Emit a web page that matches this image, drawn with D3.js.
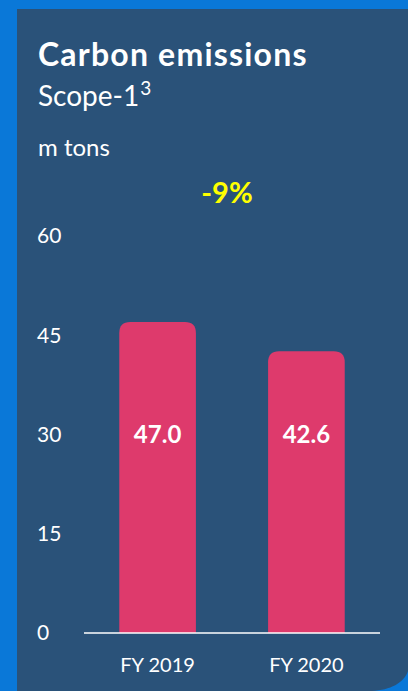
<!DOCTYPE html>
<html>
<head>
<meta charset="utf-8">
<script src="https://cdn.jsdelivr.net/npm/d3@7"></script>
<style>
  html, body { margin: 0; padding: 0; background: #0a78d8; }
  svg { display: block; }
</style>
</head>
<body>
<div id="app"></div>
<script>
// chart data
const categories = ['FY 2019', 'FY 2020']
const values = [47.0, 42.6]
const tickValues = [0, 15, 30, 45, 60]
const changeLabel = '-9%'

const W = 408
const H = 691
const font = 'Lato, "Open Sans", sans-serif'

const svg = d3.select('#app')
  .append('svg')
  .attr('width', W)
  .attr('height', H)

// navy panel, its rounded corner is cut by the bottom-right of the frame
const px = 17, py = 9
svg.append('path')
  .attr('d', `M${px},${py} H${W} V${H - 20} C${W - 4},${H - 8} ${W - 18},${H - 1} ${W - 36},${H} H${px} Z`)
  .attr('fill', '#2a5279')

// titles
svg.append('text')
  .attr('x', 38).attr('y', 66)
  .attr('fill', '#fff')
  .attr('font-family', font)
  .attr('font-weight', 'bold')
  .attr('font-size', 32)
  .attr('letter-spacing', 1.2)
  .text('Carbon emissions')

const sub = svg.append('text')
  .attr('x', 38).attr('y', 106)
  .attr('fill', '#fff')
  .attr('font-family', font)
  .attr('font-size', 28)
sub.append('tspan').text('Scope-1')
sub.append('tspan').attr('dx', 1).attr('dy', -11).attr('font-size', 19).text('3')

svg.append('text')
  .attr('x', 38).attr('y', 156)
  .attr('fill', '#fff')
  .attr('font-family', font)
  .attr('font-size', 24)
  .text('m tons')

// scales
const y = d3.scaleLinear().domain([0, 60]).range([633, 236])
const x = d3.scaleBand()
  .domain(categories)
  .range([84, 380])
  .paddingInner(0.485)
  .paddingOuter(0.237)

// change label
svg.append('text')
  .attr('x', 227).attr('y', 203)
  .attr('text-anchor', 'middle')
  .attr('fill', '#ffff00')
  .attr('font-family', font)
  .attr('font-weight', 'bold')
  .attr('font-size', 29)
  .text(changeLabel)

// y tick labels
svg.append('g')
  .selectAll('text')
  .data(tickValues)
  .join('text')
  .attr('x', 37)
  .attr('y', (d) => y(d))
  .attr('dy', '0.35em')
  .attr('fill', '#fff')
  .attr('font-family', font)
  .attr('font-size', 21)
  .text((d) => d)

// bars with rounded tops
const rr = 11
const bars = svg.append('g')
  .selectAll('g')
  .data(categories.map((c, i) => ({ c, v: values[i] })))
  .join('g')

bars.append('path')
  .attr('fill', '#de3a6c')
  .attr('d', (d) => {
    const x0 = x(d.c), x1 = x(d.c) + x.bandwidth()
    const yt = y(d.v), yb = y(0)
    return `M${x0},${yb} V${yt + rr} Q${x0},${yt} ${x0 + rr},${yt} H${x1 - rr} Q${x1},${yt} ${x1},${yt + rr} V${yb} Z`
  })

bars.append('text')
  .attr('x', (d) => x(d.c) + x.bandwidth() / 2)
  .attr('y', y(30))
  .attr('dy', '0.35em')
  .attr('text-anchor', 'middle')
  .attr('fill', '#fff')
  .attr('font-family', font)
  .attr('font-weight', 'bold')
  .attr('font-size', 24)
  .text((d) => d.v.toFixed(1))

// baseline
svg.append('line')
  .attr('x1', 84).attr('x2', 380)
  .attr('y1', y(0)).attr('y2', y(0))
  .attr('stroke', '#fff')
  .attr('stroke-width', 1.5)

// category labels
svg.append('g')
  .selectAll('text')
  .data(categories)
  .join('text')
  .attr('x', (d) => x(d) + x.bandwidth() / 2)
  .attr('y', 672)
  .attr('text-anchor', 'middle')
  .attr('fill', '#fff')
  .attr('font-family', font)
  .attr('font-size', 20)
  .text((d) => d)
</script>
</body>
</html>
